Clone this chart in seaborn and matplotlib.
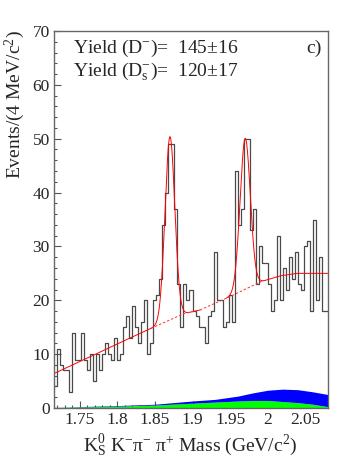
import numpy as np
import pandas as pd
import matplotlib
matplotlib.use("Agg")
import matplotlib.pyplot as plt
import seaborn as sns

# ---- data ----
bin_start = 1.716
bin_width = 0.004
counts = [4, 11, 8, 7, 7, 3, 14, 9, 9, 14,
          9, 7, 10, 5, 10, 7, 10, 12, 10, 9,
          13, 9, 10, 15, 17, 13, 19, 15, 12, 16,
          20, 10, 12, 20, 21, 24, 34, 40, 49, 49,
          37, 23, 15, 23, 20, 22, 18, 17, 15, 15,
          12, 17, 18, 29, 20, 20, 15, 16, 21, 16,
          44, 34, 37, 50, 50, 33, 37, 23, 30, 27,
          27, 23, 18, 20, 32, 20, 26, 22, 28, 24,
          29, 23, 22, 30, 31, 18, 35, 20, 28, 18, 18]

bg_x = [1.716, 1.75, 1.80, 1.85, 1.888, 1.91, 1.95, 1.99, 2.015, 2.038, 2.08]
bg_y = [6.4, 8.6, 11.9, 15.1, 17.5, 18.2, 20.7, 23.4, 24.5, 25.0, 25.0]

peak_mean = [1.870, 1.970]
peak_sigma = [0.0065, 0.0068]
peak_amp = [34.0, 28.0]

shade_x = [1.716, 1.75, 1.80, 1.85, 1.90, 1.93, 1.96, 1.98, 2.00, 2.02, 2.04, 2.06, 2.08]
green_top = [0.1, 0.2, 0.35, 0.55, 0.9, 1.1, 1.3, 1.4, 1.4, 1.2, 1.0, 0.7, 0.25]
blue_top = [0.1, 0.25, 0.45, 0.7, 1.3, 1.6, 2.2, 2.8, 3.3, 3.5, 3.4, 3.0, 2.5]

yield_lines = ["Yield (D$^{-}$)=  145\u00b116", "Yield (D$_{\\mathrm{s}}^{-}$)=  120\u00b117"]
panel_tag = "c)"
x_ticks = [1.75, 1.8, 1.85, 1.9, 1.95, 2.0, 2.05]
x_ticklabels = ["1.75", "1.8", "1.85", "1.9", "1.95", "2", "2.05"]
y_ticks = [0, 10, 20, 30, 40, 50, 60, 70]

# ---- style ----
sns.set_style("ticks")
plt.rcParams["font.family"] = ["Liberation Serif", "DejaVu Serif"]
plt.rcParams["mathtext.fontset"] = "custom"
plt.rcParams["mathtext.rm"] = "Liberation Serif"
plt.rcParams["mathtext.it"] = "Liberation Serif:italic"
plt.rcParams["mathtext.bf"] = "Liberation Serif:bold"

W, H = 354, 458
fig = plt.figure(figsize=(W / 100, H / 100), dpi=100)
ax = fig.add_axes([54 / W, 1 - 408 / H, (328 - 54) / W, (408 - 31) / H])

edges = [bin_start + bin_width * i for i in range(len(counts) + 1)]
centers = [0.5 * (edges[i] + edges[i + 1]) for i in range(len(counts))]
df = pd.DataFrame({"mass": centers, "n": counts})

# shaded components
ax.fill_between(shade_x, 0, green_top, color="#00ff00", lw=0, zorder=1)
ax.fill_between(shade_x, green_top, blue_top, color="#0000ff", lw=0, zorder=1)

# histogram
sns.histplot(data=df, x="mass", weights="n", bins=edges, element="step",
             fill=False, color="#4a4a4a", linewidth=0.9, ax=ax)

# fit curves
def total(x):
    y = np.interp(x, bg_x, bg_y)
    for m, s, a in zip(peak_mean, peak_sigma, peak_amp):
        y = y + a * np.exp(-0.5 * ((x - m) / s) ** 2)
    return y

for lo, hi in [(1.716, 1.91), (1.945, 2.08)]:
    xf = np.linspace(lo, hi, 600)
    sns.lineplot(x=xf, y=total(xf), color="#ff0000", lw=0.7, ax=ax,
                 estimator=None, sort=False)
xd = [1.845] + [x for x in bg_x if 1.845 <= x <= 1.995] + [1.995]
sns.lineplot(x=xd, y=np.interp(xd, bg_x, bg_y), color="#ff3030", lw=0.7,
             ax=ax, estimator=None, sort=False, linestyle=(0, (2.5, 2)))

# axes
ax.set_xlim(edges[0], 2.080)
ax.set_ylim(0, 70)
ax.set_xticks(x_ticks)
ax.set_xticklabels(x_ticklabels)
ax.set_yticks(y_ticks)
ax.set_xticks(np.arange(1.72, 2.0801, 0.01), minor=True)
ax.set_yticks(np.arange(0, 70.1, 2), minor=True)
ax.tick_params(axis="both", which="major", direction="in", length=5,
               width=0.8, color="#555555", labelsize=12.5, pad=3)
ax.tick_params(axis="both", which="minor", direction="in", length=2.5,
               width=0.8, color="#555555")
ax.tick_params(top=False, right=False, which="both")
for sp in ax.spines.values():
    sp.set_visible(True)
    sp.set_color("#666666")
    sp.set_linewidth(1.0)
ax.set_xlabel("")
ax.set_ylabel("")

# texts
tr = ax.get_yaxis_transform()
ax.text(0.069, 65.9, yield_lines[0], fontsize=14, ha="left", va="baseline", transform=tr)
ax.text(0.069, 61.8, yield_lines[1], fontsize=14, ha="left", va="baseline", transform=tr)
ax.text(0.92, 65.9, panel_tag, fontsize=14, ha="left", va="baseline", transform=tr)

fig.text(15 / W, 1 - 30 / H, "Events/(4 MeV/c$^{2}$)", rotation=90,
         ha="center", va="top", fontsize=14)
fig.text(190 / W, 1 - 445 / H,
         "K$_{\\mathrm{S}}^{0}$ K$^{-}$\u03c0$^{-}$ \u03c0$^{+}$ Mass (GeV/c$^{2}$)",
         ha="center", va="center", fontsize=14)

fig.savefig("out.png", dpi=100)
